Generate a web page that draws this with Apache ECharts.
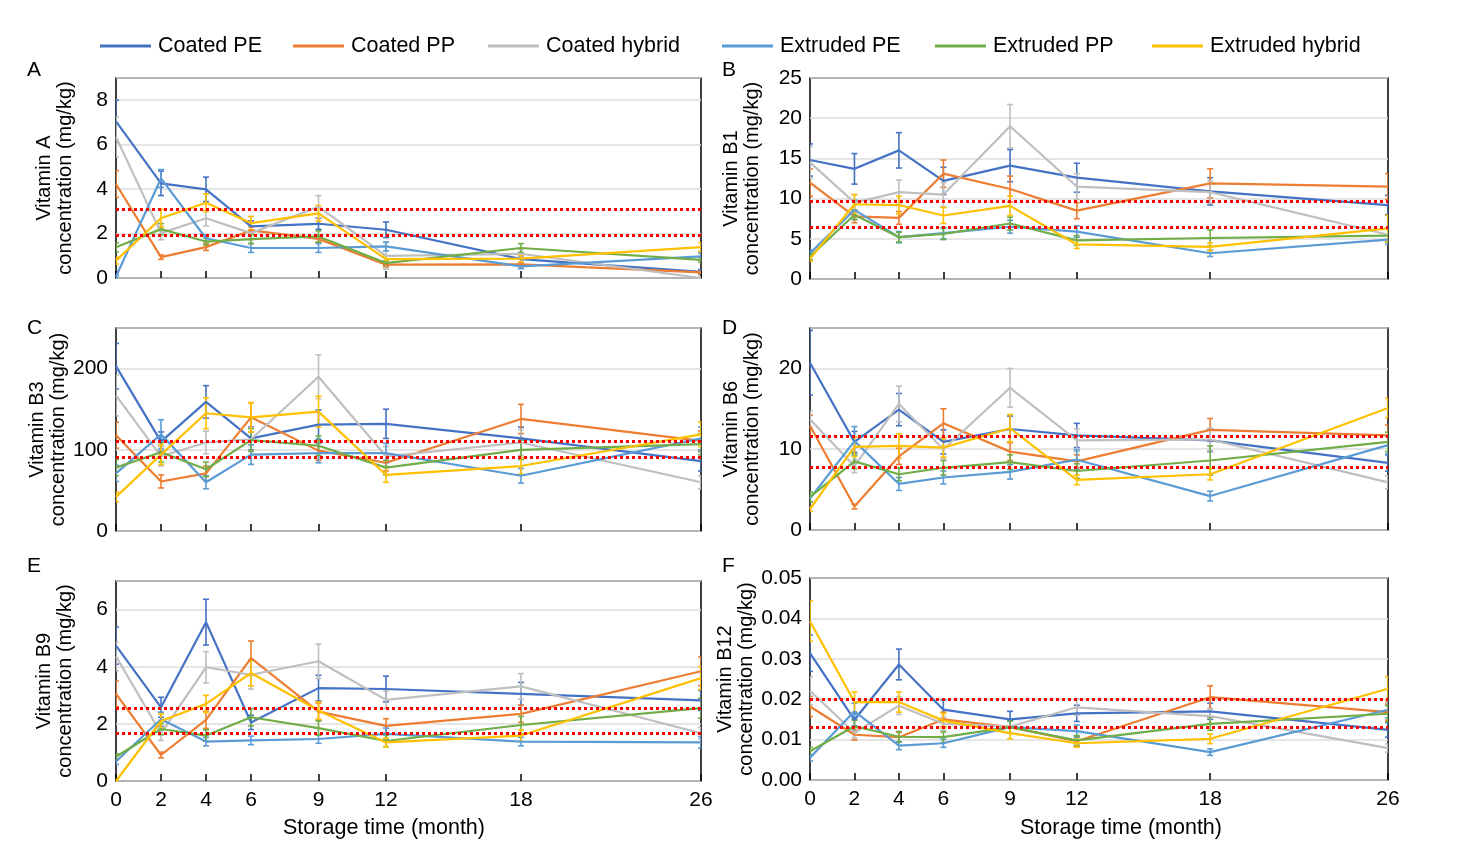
<!DOCTYPE html>
<html><head><meta charset="utf-8">
<script src="https://cdn.jsdelivr.net/npm/echarts@6/dist/echarts.min.js"></script>
<style>html,body{margin:0;padding:0;background:#fff}#c{width:1474px;height:852px}</style>
</head><body><div id="c"></div>
<script>
const months = [0, 2, 4, 6, 9, 12, 18, 26];
const seriesNames = ['Coated PE', 'Coated PP', 'Coated hybrid', 'Extruded PE', 'Extruded PP', 'Extruded hybrid'];
const seriesColors = ['#4472C4', '#ED7D31', '#BFBFBF', '#5B9BD5', '#70AD47', '#FFC000'];

// Panel A - Vitamin A (mg/kg): rows follow seriesNames
const vitA = [
  [7.05, 4.26, 3.99, 2.32, 2.44, 2.17, 0.85, 0.28],
  [4.23, 0.94, 1.39, 2.14, 1.76, 0.60, 0.61, 0.25],
  [6.35, 2.02, 2.69, 2.02, 3.21, 1.00, 1.09, 0.00],
  [0.07, 4.48, 1.79, 1.35, 1.35, 1.42, 0.52, 0.97],
  [1.38, 2.20, 1.64, 1.75, 1.87, 0.67, 1.35, 0.82],
  [0.78, 2.69, 3.39, 2.47, 2.91, 0.85, 0.87, 1.39]
];
const vitA_err = [
  [0.95, 0.55, 0.55, 0.25, 0.25, 0.35, 0.15, 0.10],
  [0.60, 0.10, 0.15, 0.15, 0.15, 0.10, 0.10, 0.05],
  [0.90, 0.30, 0.35, 0.30, 0.50, 0.60, 0.20, 0.05],
  [0.05, 0.40, 0.15, 0.20, 0.20, 0.20, 0.10, 0.15],
  [0.20, 0.25, 0.15, 0.20, 0.25, 0.10, 0.20, 0.10],
  [0.15, 0.40, 0.40, 0.30, 0.35, 0.15, 0.15, 0.20]
];
const vitA_ref = [3.09, 1.94];

// Panel B - Vitamin B1
const vitB1 = [
  [14.8, 13.7, 16.0, 12.2, 14.1, 12.6, 10.9, 9.2],
  [12.0, 7.8, 7.6, 13.1, 11.2, 8.5, 11.9, 11.5],
  [14.5, 9.5, 10.8, 10.5, 19.0, 11.5, 10.8, 5.5],
  [3.2, 8.6, 5.2, 5.7, 6.5, 5.9, 3.2, 4.9],
  [2.8, 8.0, 5.2, 5.6, 6.9, 4.8, 5.1, 5.4],
  [2.5, 9.3, 9.2, 7.9, 9.1, 4.3, 4.0, 6.3]
];
const vitB1_err = [
  [2.0, 1.9, 2.2, 1.7, 2.0, 1.8, 1.7, 1.2],
  [1.7, 0.8, 0.8, 1.7, 1.6, 1.0, 1.8, 1.6],
  [2.0, 1.0, 1.5, 1.5, 2.7, 1.6, 1.4, 0.8],
  [0.4, 1.2, 0.7, 0.7, 0.8, 0.7, 0.4, 0.6],
  [0.4, 0.6, 0.6, 0.7, 0.8, 0.6, 1.0, 0.8],
  [0.3, 1.2, 1.1, 1.0, 1.2, 0.5, 0.5, 1.6]
];
const vitB1_ref = [9.7, 6.4];

// Panel C - Vitamin B3
const vitB3 = [
  [203, 110, 159, 114, 131, 132, 114, 86],
  [118, 61, 71, 140, 99, 84, 138, 111],
  [167, 92, 109, 113, 190, 92, 109, 60],
  [71, 119, 60, 94, 96, 96, 68, 114],
  [78, 97, 76, 112, 105, 78, 100, 107],
  [42, 94, 145, 140, 147, 69, 80, 119]
];
const vitB3_err = [
  [28, 12, 20, 14, 18, 18, 14, 12],
  [16, 8, 9, 18, 12, 10, 18, 12],
  [25, 12, 14, 14, 27, 12, 16, 8],
  [10, 18, 8, 12, 12, 12, 9, 14],
  [10, 12, 9, 14, 12, 9, 12, 13],
  [6, 12, 19, 18, 19, 9, 10, 15]
];
const vitB3_ref = [110, 91];

// Panel D - Vitamin B6
const vitB6 = [
  [20.7, 10.9, 14.9, 10.9, 12.5, 11.7, 11.1, 8.3],
  [12.9, 2.9, 9.1, 13.2, 9.7, 8.5, 12.4, 11.7],
  [13.7, 7.9, 15.6, 10.0, 17.6, 11.1, 11.2, 5.9],
  [3.9, 11.0, 5.7, 6.5, 7.2, 8.7, 4.2, 10.5],
  [4.1, 8.5, 6.9, 7.7, 8.4, 7.3, 8.6, 10.9],
  [2.6, 10.3, 10.4, 10.2, 12.6, 6.2, 6.9, 15.1]
];
const vitB6_err = [
  [4.0, 1.3, 2.0, 1.5, 1.6, 1.5, 1.4, 1.0],
  [1.3, 0.3, 1.0, 1.8, 1.1, 0.8, 1.4, 1.3],
  [1.0, 0.8, 2.2, 1.2, 2.4, 1.4, 1.4, 0.8],
  [0.4, 1.8, 0.8, 0.8, 0.9, 1.2, 0.6, 1.1],
  [0.6, 0.9, 0.8, 0.9, 0.9, 0.9, 1.8, 1.2],
  [0.3, 1.2, 1.5, 1.2, 1.7, 0.6, 0.7, 1.2]
];
const vitB6_ref = [11.6, 7.8];

// Panel E - Vitamin B9
const vitB9 = [
  [4.74, 2.58, 5.56, 2.05, 3.25, 3.22, 3.05, 2.82],
  [3.05, 0.91, 2.14, 4.30, 2.43, 1.93, 2.35, 3.84],
  [4.36, 1.67, 3.98, 3.72, 4.19, 2.84, 3.31, 1.67],
  [0.68, 2.16, 1.38, 1.42, 1.47, 1.65, 1.38, 1.35],
  [0.85, 1.82, 1.59, 2.23, 1.85, 1.40, 1.96, 2.55],
  [0.00, 2.10, 2.70, 3.78, 2.47, 1.35, 1.59, 3.60]
];
const vitB9_err = [
  [0.65, 0.35, 0.80, 0.25, 0.45, 0.45, 0.40, 0.35],
  [0.45, 0.10, 0.30, 0.60, 0.30, 0.25, 0.30, 0.50],
  [0.50, 0.25, 0.55, 0.50, 0.60, 0.30, 0.45, 0.20],
  [0.10, 0.25, 0.15, 0.15, 0.15, 0.20, 0.15, 0.20],
  [0.10, 0.20, 0.20, 0.30, 0.25, 0.20, 0.30, 0.35],
  [0.02, 0.25, 0.30, 0.45, 0.30, 0.15, 0.20, 0.40]
];
const vitB9_ref = [2.53, 1.67];

// Panel F - Vitamin B12
const vitB12 = [
  [0.0314, 0.0149, 0.0286, 0.0174, 0.0150, 0.0165, 0.0170, 0.0124],
  [0.0182, 0.0112, 0.0106, 0.0150, 0.0131, 0.0096, 0.0205, 0.0168],
  [0.0221, 0.0117, 0.0184, 0.0139, 0.0132, 0.0180, 0.0158, 0.0079],
  [0.0055, 0.0170, 0.0085, 0.0091, 0.0131, 0.0121, 0.0069, 0.0174],
  [0.0071, 0.0133, 0.0107, 0.0106, 0.0131, 0.0098, 0.0139, 0.0164],
  [0.0393, 0.0193, 0.0193, 0.0147, 0.0116, 0.0091, 0.0102, 0.0226]
];
const vitB12_err = [
  [0.0045, 0.0015, 0.0038, 0.0024, 0.0020, 0.0020, 0.0020, 0.0018],
  [0.0025, 0.0013, 0.0012, 0.0018, 0.0015, 0.0012, 0.0028, 0.0020],
  [0.0035, 0.0013, 0.0022, 0.0016, 0.0015, 0.0020, 0.0018, 0.0010],
  [0.0008, 0.0020, 0.0010, 0.0010, 0.0015, 0.0015, 0.0008, 0.0020],
  [0.0010, 0.0015, 0.0013, 0.0013, 0.0015, 0.0012, 0.0016, 0.0020],
  [0.0050, 0.0025, 0.0025, 0.0018, 0.0014, 0.0010, 0.0012, 0.0030]
];
const vitB12_ref = [0.0201, 0.0131];

const panelLetters = ['A', 'B', 'C', 'D', 'E', 'F'];
const panelTitles = ['Vitamin A', 'Vitamin B1', 'Vitamin B3', 'Vitamin B6', 'Vitamin B9', 'Vitamin B12'];
const xAxisTitle = 'Storage time (month)';
const unitText = 'concentration (mg/kg)';

const panels = [
  { vals: vitA, err: vitA_err, ref: vitA_ref, max: 9, interval: 2, showMax: false, grid: { left: 116, top: 78, width: 585, height: 200 }, gap: 40, letter: [27, 60] },
  { vals: vitB1, err: vitB1_err, ref: vitB1_ref, max: 25, interval: 5, showMax: true, grid: { left: 810, top: 78, width: 578, height: 201 }, gap: 47, letter: [722, 60] },
  { vals: vitB3, err: vitB3_err, ref: vitB3_ref, max: 250, interval: 100, showMax: false, grid: { left: 116, top: 328, width: 585, height: 203 }, gap: 40, letter: [27, 318] },
  { vals: vitB6, err: vitB6_err, ref: vitB6_ref, max: 25, interval: 10, showMax: false, grid: { left: 810, top: 328, width: 578, height: 202 }, gap: 47, letter: [722, 318] },
  { vals: vitB9, err: vitB9_err, ref: vitB9_ref, max: 7, interval: 2, showMax: false, grid: { left: 116, top: 581, width: 585, height: 200 }, gap: 40, letter: [27, 556], xl: [384, 828] },
  { vals: vitB12, err: vitB12_err, ref: vitB12_ref, max: 0.05, interval: 0.01, showMax: true, grid: { left: 810, top: 578, width: 578, height: 202 }, gap: 52, letter: [722, 556], xl: [1121, 828], dec: 2 }
];

const FONT = 'Liberation Sans, Arial, sans-serif';
const grids = [], xAxes = [], yAxes = [], series = [], titles = [], graphics = [];

function errorRender(color) {
  return function (params, api) {
    const x = api.value(0), y = api.value(1), e = api.value(2);
    const t = api.coord([x, y + e]);
    const b = api.coord([x, y - e]);
    const hw = 3;
    const st = { stroke: color, lineWidth: 1.6 };
    return {
      type: 'group',
      children: [
        { type: 'line', shape: { x1: t[0], y1: t[1], x2: b[0], y2: b[1] }, style: st },
        { type: 'line', shape: { x1: t[0] - hw, y1: t[1], x2: t[0] + hw, y2: t[1] }, style: st },
        { type: 'line', shape: { x1: b[0] - hw, y1: b[1], x2: b[0] + hw, y2: b[1] }, style: st }
      ]
    };
  };
}

panels.forEach((p, k) => {
  grids.push(Object.assign({ show: true, borderColor: '#000', borderWidth: 1.5, backgroundColor: 'transparent' }, p.grid));
  xAxes.push({
    type: 'value', gridIndex: k, min: 0, max: 26,
    axisLine: { show: false },
    splitLine: { show: false },
    axisTick: { show: true, inside: true, length: 7, customValues: months, lineStyle: { color: '#000', width: 1.5 } },
    axisLabel: { show: !!p.xl, customValues: months, margin: 9, color: '#000', fontSize: 21, fontFamily: FONT }
  });
  yAxes.push({
    type: 'value', gridIndex: k, min: 0, max: p.max, interval: p.interval,
    axisLine: { show: false }, axisTick: { show: false },
    splitLine: { show: true, lineStyle: { color: '#DCDCDC', width: 1.5 } },
    axisLabel: {
      showMaxLabel: p.showMax, margin: 8, color: '#000', fontSize: 21, fontFamily: FONT,
      formatter: p.dec ? (v => v.toFixed(p.dec)) : (v => String(v))
    },
    name: panelTitles[k] + '\n' + unitText, nameLocation: 'middle', nameRotate: 90, nameGap: p.gap,
    nameTextStyle: { color: '#000', fontSize: 20, lineHeight: 21, fontFamily: FONT }
  });
  titles.push({ text: panelLetters[k], left: p.letter[0], top: p.letter[1], padding: 0,
    textStyle: { fontSize: 21, fontWeight: 'normal', color: '#000', fontFamily: FONT } });
  if (p.xl) {
    graphics.push({ type: 'text', x: p.xl[0], y: p.xl[1], silent: true,
      style: { text: xAxisTitle, textAlign: 'center', textVerticalAlign: 'middle', fill: '#000', fontSize: 21.5, fontFamily: FONT } });
  }

  p.vals.forEach((row, i) => {
    const s = {
      name: seriesNames[i], type: 'line', xAxisIndex: k, yAxisIndex: k,
      data: months.map((m, j) => [m, row[j]]),
      symbol: 'none', lineStyle: { width: 2.2, color: seriesColors[i] },
      itemStyle: { color: seriesColors[i] }, z: 3, animation: false
    };
    if (i === 0) {
      s.markLine = {
        silent: true, symbol: ['none', 'none'], label: { show: false }, animation: false, precision: 6,
        lineStyle: { color: '#FF0000', type: [3, 3], width: 3 },
        emphasis: { disabled: true },
        data: p.ref.map(v => ({ yAxis: v }))
      };
    }
    series.push(s);
    series.push({
      name: seriesNames[i], type: 'custom', xAxisIndex: k, yAxisIndex: k, clip: true,
      data: months.map((m, j) => [m, row[j], p.err[i][j]]),
      encode: { x: 0, y: 1 }, renderItem: errorRender(seriesColors[i]), z: 2, animation: false, silent: true
    });
  });
});

const legendLefts = [100, 293, 488, 722, 935, 1152];
const legends = seriesNames.map((n, i) => ({
  data: [n], left: legendLefts[i], top: 35, icon: 'rect', itemWidth: 51, itemHeight: 3,
  selectedMode: false, padding: 0,
  textStyle: { fontSize: 21.5, color: '#000', fontFamily: FONT, padding: [0, 0, 0, 2] }
}));

const chart = echarts.init(document.getElementById('c'), null, { renderer: 'canvas' });
chart.setOption({
  backgroundColor: '#fff',
  animation: false,
  title: titles,
  legend: legends,
  grid: grids,
  xAxis: xAxes,
  yAxis: yAxes,
  graphic: graphics,
  series: series
});
</script></body></html>
